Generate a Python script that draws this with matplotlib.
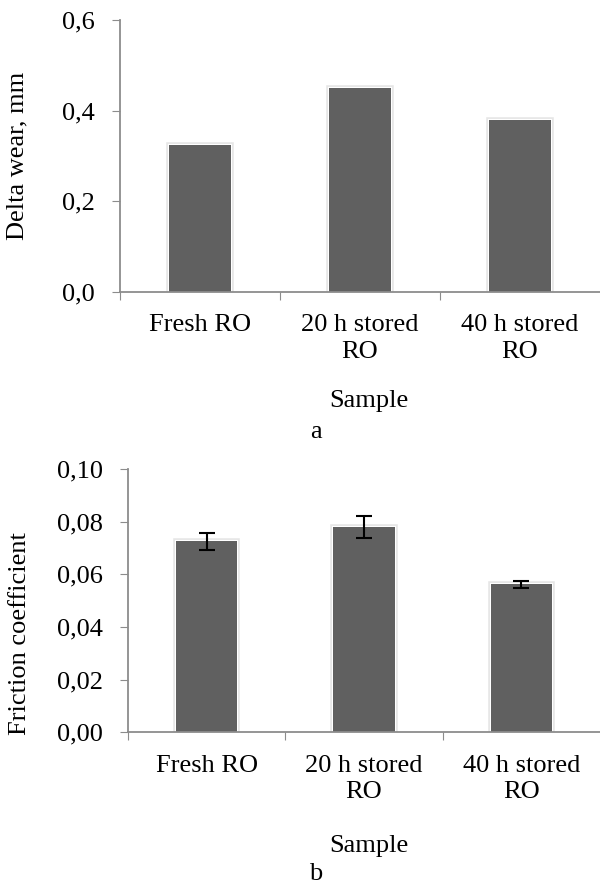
import numpy as np
import matplotlib.pyplot as plt
import matplotlib.patheffects as pe

plt.rcParams['font.family'] = ['Liberation Serif', 'DejaVu Serif']

samples = ['Fresh RO', '20 h stored\nRO', '40 h stored\nRO']
wear = [0.325, 0.45, 0.38]
friction = [0.0725, 0.078, 0.0563]
friction_err = [0.0032, 0.004, 0.0013]

wear_ticks = [0.0, 0.2, 0.4, 0.6]
wear_labels = ['0,0', '0,2', '0,4', '0,6']
fric_ticks = [0.0, 0.02, 0.04, 0.06, 0.08, 0.10]
fric_labels = ['0,00', '0,02', '0,04', '0,06', '0,08', '0,10']

bar_color = '#606060'
axis_color = '#8c8c8c'
fs = 19

fig = plt.figure(figsize=(6, 8.85), dpi=100)
ax1 = fig.add_axes([0.2, 0.670, 0.8, 0.3073])
ax2 = fig.add_axes([0.2133, 0.1725, 0.7867, 0.2975])

shadow = [pe.Stroke(linewidth=4, foreground='#e6e6e6'),
          pe.Stroke(linewidth=1.5, foreground='white'), pe.Normal()]


def style(ax, ticks, labels, ylabel, ylab_x, ylab_y, xlab_x, xlab_y):
    x = np.arange(len(samples))
    ax.set_xlim(-0.5, len(samples) - 0.5)
    ax.set_ylim(ticks[0], ticks[-1])
    ax.set_yticks(ticks)
    ax.set_yticklabels(labels, fontsize=fs)
    ax.set_xticks(np.arange(len(samples)) - 0.5)
    ax.set_xticklabels([])
    ax.set_xticks(x, minor=True)
    ax.set_xticklabels(samples, minor=True, fontsize=fs, linespacing=1.25)
    ax.tick_params(axis='x', which='minor', length=0, pad=16)
    ax.tick_params(axis='x', which='major', length=6, color=axis_color, direction='out')
    ax.tick_params(axis='y', length=6, color=axis_color, direction='out', pad=12)
    for s in ['top', 'right']:
        ax.spines[s].set_visible(False)
    for s in ['left', 'bottom']:
        ax.spines[s].set_color(axis_color)
        ax.spines[s].set_linewidth(1.3)
    ax.set_ylabel(ylabel, fontsize=fs)
    ax.yaxis.set_label_coords(ylab_x, ylab_y)
    ax.set_xlabel('Sample', fontsize=fs)
    ax.xaxis.set_label_coords(xlab_x, xlab_y)


x = np.arange(len(samples))
bars = ax1.bar(x, wear, width=0.39, color=bar_color, zorder=2)
for b in bars:
    b.set_path_effects(shadow)
style(ax1, wear_ticks, wear_labels, 'Delta wear, mm', -0.19, 0.5, 0.519, -0.36)

bars = ax2.bar(x, friction, width=0.39, color=bar_color, zorder=2)
for b in bars:
    b.set_path_effects(shadow)
ax2.errorbar(x, friction, yerr=friction_err, fmt='none', ecolor='black',
             elinewidth=1.5, capsize=5.5, capthick=1.5, zorder=3)
style(ax2, fric_ticks, fric_labels, 'Friction coefficient', -0.205, 0.376, 0.51, -0.39)

fig.text(316 / 600, 1 - 432 / 885, 'a', fontsize=fs, ha='center', va='center')
fig.text(316 / 600, 1 - 874 / 885, 'b', fontsize=fs, ha='center', va='center')

fig.savefig('out.png', dpi=100)
